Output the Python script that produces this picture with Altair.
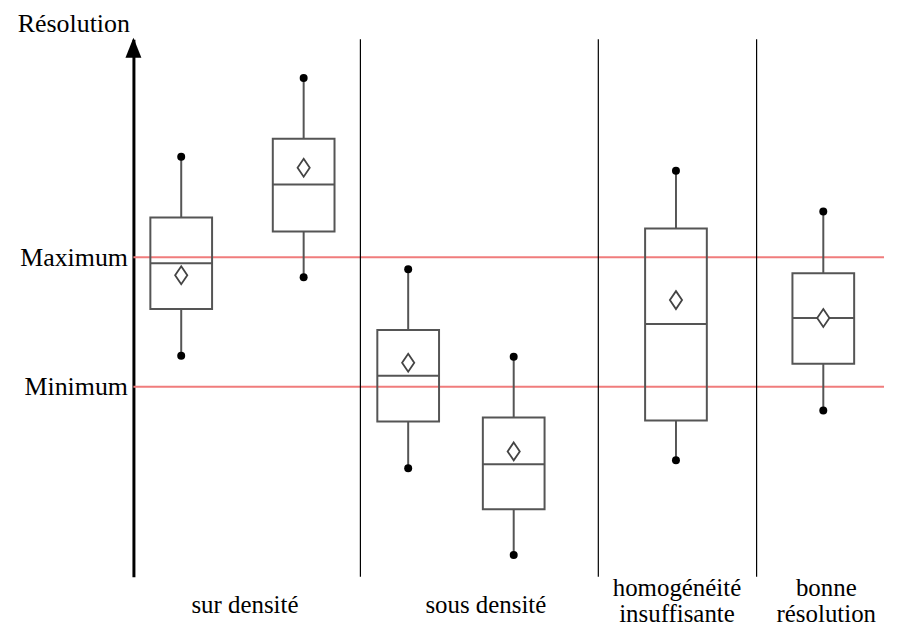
import altair as alt
import pandas as pd

# ---- data (y unit = arbitrary "résolution" scale) ----
box_x = [48, 171, 276, 382, 545, 693]          # horizontal positions of the six boxes
whisker_low = [22.2, 30.1, 10.9, 2.2, 11.7, 16.7]
q1 = [26.9, 34.7, 15.6, 6.8, 15.7, 21.4]
median = [31.5, 39.4, 20.2, 11.3, 25.4, 26.0]
q3 = [36.1, 44.0, 24.8, 16.0, 35.0, 30.5]
whisker_high = [42.2, 50.1, 30.9, 22.1, 40.8, 36.7]
mean = [30.3, 41.1, 21.5, 12.6, 27.8, 26.0]

ref_names = ["Maximum", "Minimum"]
ref_values = [32.1, 19.1]

separators = [228, 467, 626]

group_labels = ["sur densité", "sous densité", "homogénéité\ninsuffisante", "bonne\nrésolution"]
group_label_x = [112, 354, 546, 696]

Y_TITLE = "Résolution"
FONT = "Liberation Serif"
FS = 26
FS_X = 25

x_dom = [0, 754]
y_dom = [0, 54]

xs = alt.Scale(domain=x_dom, nice=False, zero=False)
ys = alt.Scale(domain=y_dom, nice=False, zero=False)

boxes = pd.DataFrame(dict(x=box_x, lo=whisker_low, q1=q1, med=median, q3=q3, hi=whisker_high, mean=mean))
refs = pd.DataFrame(dict(name=ref_names, y=ref_values, x0=[x_dom[0]] * 2, x1=[x_dom[1]] * 2))
seps = pd.DataFrame(dict(x=separators, y0=[y_dom[0]] * 3, y1=[y_dom[1]] * 3))
arrow = pd.DataFrame(dict(x=[x_dom[0]], y=[53.15]))
labels = pd.DataFrame(dict(label=group_labels, x=group_label_x, y=[y_dom[0]] * len(group_labels)))


def lab_expr_y():
    parts = []
    for v, lab in zip(ref_values, ref_names):
        parts.append(f"abs(datum.value - {v}) < 0.01 ? '{lab}' : ")
    return "".join(parts) + "''"


x_axis = alt.Axis(domain=False, ticks=False, labels=False, grid=False, title=None)
y_axis = alt.Axis(values=ref_values, labelExpr=lab_expr_y(), domain=True, domainColor="black",
                  domainWidth=3, ticks=False, tickSize=0, grid=False, labelFont=FONT, labelFontSize=FS,
                  labelColor="black", labelPadding=6, labelFlush=False, labelOverlap=False,
                  title=Y_TITLE, titleAngle=0, titleAlign="right", titleBaseline="middle",
                  titleX=-4, titleY=-16, titleFont=FONT, titleFontSize=FS, titleFontWeight="normal",
                  titleColor="black")


def X(f):
    return alt.X(f, type="quantitative", scale=xs, axis=x_axis)


def Y(f):
    return alt.Y(f, type="quantitative", scale=ys, axis=y_axis)


ref_lines = alt.Chart(refs).mark_rule(color="#f07c7c", strokeWidth=2).encode(
    x=X("x0"), x2="x1", y=Y("y"),
)

sep_lines = alt.Chart(seps).mark_rule(color="black", strokeWidth=1.2).encode(
    x=X("x"), y=Y("y0"), y2="y1",
)

base = alt.Chart(boxes).transform_calculate(xl="datum.x - 31", xr="datum.x + 31")
GRAY = "#555555"

box_rect = base.mark_rect(fill=None, stroke=GRAY, strokeWidth=2, fillOpacity=0).encode(
    x=X("xl"), x2="xr", y=Y("q1"), y2="q3",
)
med_line = base.mark_rule(color=GRAY, strokeWidth=2).encode(
    x=X("xl"), x2="xr", y=Y("med"),
)
whisk_hi = base.mark_rule(color=GRAY, strokeWidth=2).encode(
    x=X("x"), y=Y("q3"), y2="hi",
)
whisk_lo = base.mark_rule(color=GRAY, strokeWidth=2).encode(
    x=X("x"), y=Y("lo"), y2="q1",
)
dots = base.transform_fold(["lo", "hi"], as_=["k", "v"]).mark_point(
    filled=True, color="black", size=64, opacity=1).encode(
    x=X("x"), y=Y("v"),
)
means = base.mark_point(shape="M0,-1L0.68,0L0,1L-0.68,0Z", size=324, filled=True, fill="white",
                        stroke="#444444", strokeWidth=1.8, opacity=1).encode(
    x=X("x"), y=Y("mean"),
)
arrow_head = alt.Chart(arrow).mark_point(shape="M0,-1L0.8,1L-0.8,1Z", size=400, filled=True,
                                         color="black", opacity=1).encode(
    x=X("x"), y=Y("y"),
)

lab_base = alt.Chart(labels).transform_calculate(
    nlines="length(split(datum.label, '\\n'))"
)
lab_single = lab_base.transform_filter("datum.nlines == 1").mark_text(
    font=FONT, fontSize=FS_X, color="black", baseline="middle", align="center", dy=28,
    lineBreak="\n", lineHeight=26,
).encode(x=X("x"), y=Y("y"), text="label:N")
lab_multi = lab_base.transform_filter("datum.nlines > 1").mark_text(
    font=FONT, fontSize=FS_X, color="black", baseline="middle", align="center", dy=11,
    lineBreak="\n", lineHeight=26,
).encode(x=X("x"), y=Y("y"), text="label:N")

chart = alt.layer(ref_lines, sep_lines, whisk_hi, whisk_lo, box_rect, med_line, dots, means, arrow_head,
                  lab_single, lab_multi).properties(
    width=754, height=540,
    autosize=alt.AutoSizeParams(type="none"),
    padding={"left": 126, "top": 30, "right": 5, "bottom": 50},
    background="white",
).configure_view(stroke=None)

chart.save("out.html", embed_options={"renderer": "svg", "actions": False})
